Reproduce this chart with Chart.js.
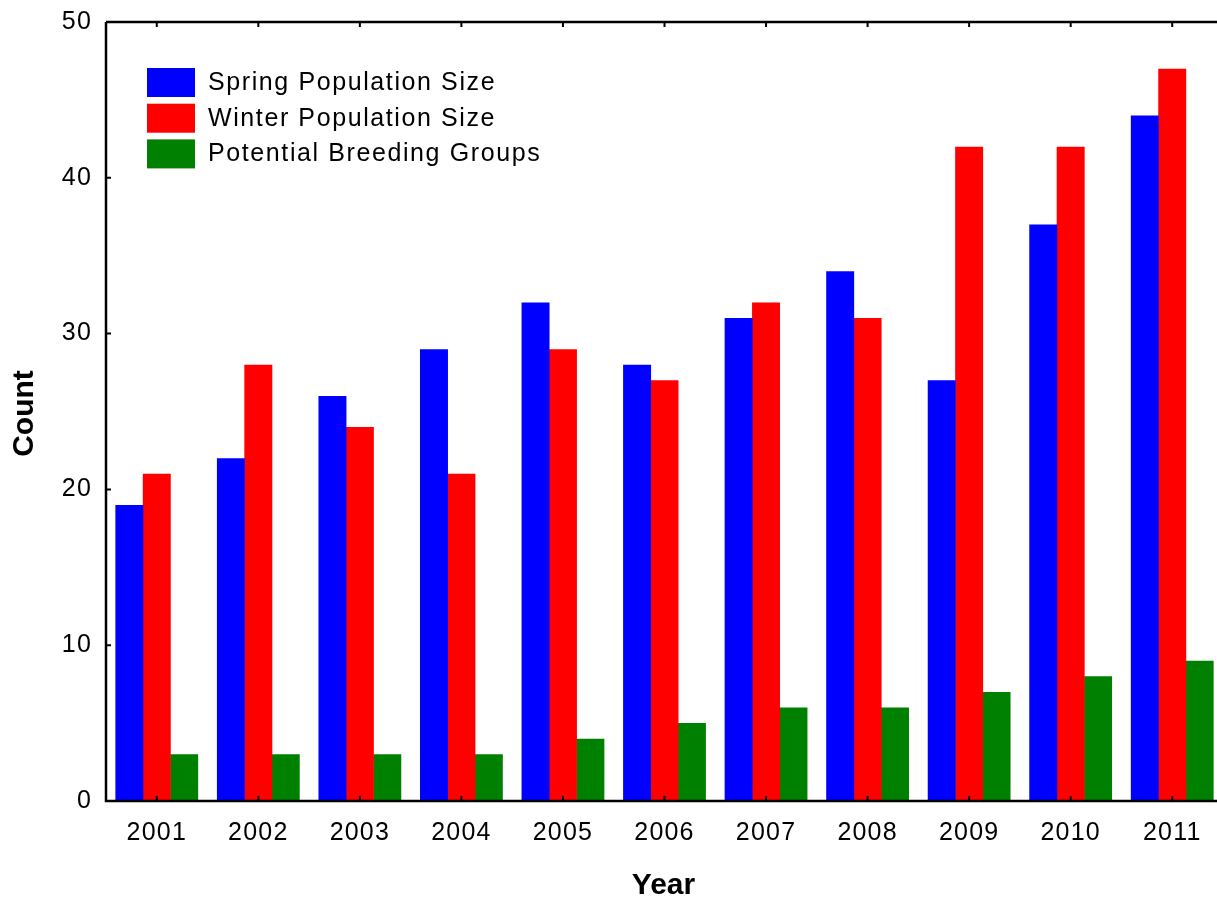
<!DOCTYPE html>
<html>
<head>
<meta charset="utf-8">
<script src="https://cdn.jsdelivr.net/npm/chart.js@4.4.0/dist/chart.umd.min.js"></script>
<style>
  html, body { margin: 0; padding: 0; background: #fff; overflow: hidden; }
  #wrap { width: 1240px; height: 901px; }
</style>
</head>
<body>
<div id="wrap"><canvas id="chart" width="1240" height="901"></canvas></div>
<script>
// данные с картинки
const years = ["2001", "2002", "2003", "2004", "2005", "2006", "2007", "2008", "2009", "2010", "2011"];
const springPop = [19, 22, 26, 29, 32, 28, 31, 34, 27, 37, 44];
const winterPop = [21, 28, 24, 21, 29, 27, 32, 31, 42, 42, 47];
const breedingGroups = [3, 3, 3, 3, 4, 5, 6, 6, 7, 8, 9];
const yTicks = [0, 10, 20, 30, 40, 50];

const FONT = "'Liberation Sans', Arial, sans-serif";

// межбуквенный интервал как в оригинале
const spacingPlugin = {
  id: "spacing",
  beforeDraw(chart) {
    chart.ctx.letterSpacing = "1.2px";
  },
};

// рамка осей, засечки внутрь, подписи осей
const framePlugin = {
  id: "frame",
  afterDraw(chart) {
    const { ctx, chartArea: a, scales } = chart;
    ctx.save();
    ctx.strokeStyle = "#000";
    ctx.lineWidth = 2.5;
    ctx.beginPath();
    ctx.moveTo(a.left, a.top);
    ctx.lineTo(a.right, a.top);
    ctx.moveTo(a.left, a.top);
    ctx.lineTo(a.left, a.bottom);
    ctx.lineTo(a.right, a.bottom);
    ctx.stroke();
    ctx.lineWidth = 2;
    ctx.beginPath();
    yTicks.forEach((v) => {
      const y = scales.y.getPixelForValue(v);
      ctx.moveTo(a.left, y);
      ctx.lineTo(a.left + 5, y);
    });
    years.forEach((c, i) => {
      const x = scales.x.getPixelForValue(i);
      ctx.moveTo(x, a.bottom);
      ctx.lineTo(x, a.bottom - 5);
      ctx.moveTo(x, a.top);
      ctx.lineTo(x, a.top + 5);
    });
    ctx.stroke();

    ctx.letterSpacing = "0px";
    ctx.fillStyle = "#000";
    ctx.font = "bold 30px " + FONT;
    ctx.textAlign = "center";
    ctx.textBaseline = "middle";
    ctx.fillText("Year", (a.left + a.right) / 2 - 1, 886);
    ctx.translate(25, (a.top + a.bottom) / 2 + 2);
    ctx.rotate(-Math.PI / 2);
    ctx.fillText("Count", 0, 0);
    ctx.restore();
  },
};

// легенда внутри графика
const legendPlugin = {
  id: "innerLegend",
  afterDraw(chart) {
    const ctx = chart.ctx;
    ctx.save();
    ctx.letterSpacing = "1.6px";
    ctx.font = "25px " + FONT;
    ctx.textBaseline = "middle";
    ctx.textAlign = "left";
    chart.data.datasets.forEach((ds, i) => {
      const top = 68 + i * 35.7;
      ctx.fillStyle = ds.backgroundColor;
      ctx.fillRect(147, top, 48, 29);
      ctx.fillStyle = "#000";
      ctx.fillText(ds.label, 208, top + 15);
    });
    ctx.restore();
  },
};

const ctx = document.getElementById("chart").getContext("2d");
const chart = new Chart(ctx, {
  type: "bar",
  data: {
    labels: years,
    datasets: [
      { label: "Spring Population Size", data: springPop, backgroundColor: "#0000ff" },
      { label: "Winter Population Size", data: winterPop, backgroundColor: "#ff0000" },
      { label: "Potential Breeding Groups", data: breedingGroups, backgroundColor: "#008000" },
    ],
  },
  options: {
    responsive: false,
    animation: false,
    layout: { padding: { top: 22, right: 17, left: 0, bottom: 0 } },
    datasets: {
      bar: { categoryPercentage: 0.81, barPercentage: 1.02, borderWidth: 0 },
    },
    plugins: {
      legend: { display: false },
      tooltip: { enabled: false },
    },
    scales: {
      x: {
        grid: { display: false, drawTicks: false },
        border: { display: false },
        ticks: { color: "#000", font: { family: FONT, size: 25 }, padding: 17 },
        afterFit(scale) {
          scale.height = 100;
          scale.paddingLeft = 0;
          scale.paddingRight = 0;
        },
      },
      y: {
        min: 0,
        max: 50,
        grid: { display: false, drawTicks: false },
        border: { display: false },
        ticks: { stepSize: 10, color: "#000", font: { family: FONT, size: 25 }, padding: 14 },
        afterFit(scale) {
          scale.width = 106;
          scale.paddingTop = 0;
          scale.paddingBottom = 0;
        },
      },
    },
  },
  plugins: [spacingPlugin, framePlugin, legendPlugin],
});
</script>
</body>
</html>
